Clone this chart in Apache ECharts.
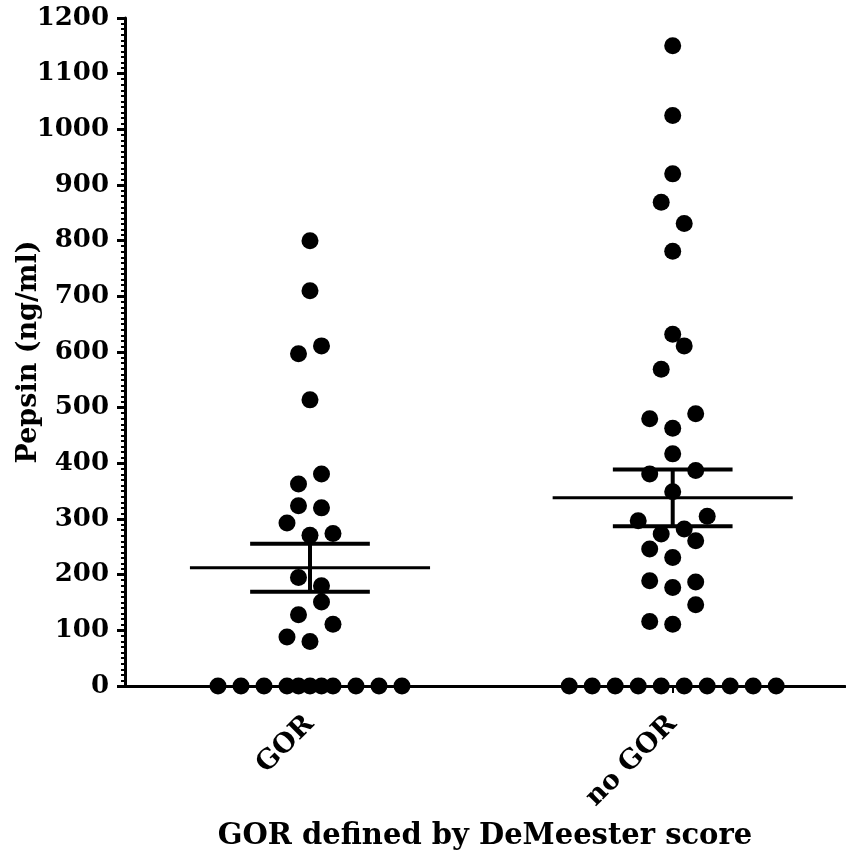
<!DOCTYPE html>
<html>
<head>
<meta charset="utf-8">
<script src="https://cdn.jsdelivr.net/npm/echarts@6/dist/echarts.min.js"></script>
<style>html,body{margin:0;padding:0;background:#fff}#c{width:846px;height:852px}</style>
</head>
<body>
<div id="c"></div>
<script>
// ---- data ----
const categories = ['GOR', 'no GOR'];
const yTicks = [0, 100, 200, 300, 400, 500, 600, 700, 800, 900, 1000, 1100, 1200];

// GOR group: pepsin values and jitter column (horizontal slot) of each dot
const gorValues = [800, 710, 597, 611, 514, 381, 363, 324, 320, 293, 271, 274, 195, 180, 151, 128, 111, 88, 80,
                   0, 0, 0, 0, 0, 0, 0, 0, 0, 0, 0];
const gorCols   = [0, 0, -1, 1, 0, 1, -1, -1, 1, -2, 0, 2, -1, 1, 1, -1, 2, -2, 0,
                   -8, -6, -4, -2, -1, 0, 1, 2, 4, 6, 8];

// no GOR group
const noGorValues = [1150, 1025, 920, 869, 831, 781, 632, 611, 569, 480, 489, 463, 417, 381, 387, 349, 297, 305,
                     273, 282, 261, 246, 231, 189, 177, 187, 146, 116, 111,
                     0, 0, 0, 0, 0, 0, 0, 0, 0, 0];
const noGorCols   = [0, 0, 0, -1, 1, 0, 0, 1, -1, -2, 2, 0, 0, -2, 2, 0, -3, 3,
                     -1, 1, 2, -2, 0, -2, 0, 2, 2, -2, 0,
                     -9, -7, -5, -3, -1, 1, 3, 5, 7, 9];

// mean and SEM per group
const means = [212.5, 338];
const sems  = [43, 51];

// ---- chart ----
const STEP = 0.0317;        // width of one jitter slot in x units
const MEAN_HALF = 0.331;    // half width of mean line
const CAP_HALF = 0.165;     // half width of SEM caps

function pts(vals, cols, g) {
  return vals.map((v, i) => [g + cols[i] * STEP, v]);
}

const font = '"DejaVu Serif", "Liberation Serif", serif';
const chart = echarts.init(document.getElementById('c'));
chart.setOption({
  animation: false,
  grid: { left: 125, right: 1, top: 18, bottom: 166, containLabel: false, outerBoundsMode: 'none' },
  xAxis: {
    type: 'value', min: -0.51, max: 1.475,
    splitLine: { show: false },
    axisLine: { show: true, onZero: false, lineStyle: { color: '#000', width: 3 } },
    axisTick: { show: true, customValues: [0, 1], length: 7, inside: false, lineStyle: { color: '#000', width: 2 } },
    axisLabel: {
      customValues: [0, 1],
      formatter: v => categories[Math.round(v)],
      rotate: 45, margin: 34,
      fontFamily: font, fontWeight: 'bold', fontSize: 27, color: '#000'
    },
    name: 'GOR defined by DeMeester score',
    nameLocation: 'middle', nameGap: 136,
    nameTextStyle: { fontFamily: font, fontWeight: 'bold', fontSize: 29, color: '#000' }
  },
  yAxis: {
    type: 'value', min: 0, max: 1200, interval: 100,
    splitLine: { show: false },
    axisLine: { show: true, onZero: false, lineStyle: { color: '#000', width: 3 } },
    axisTick: { show: true, length: 8, lineStyle: { color: '#000', width: 3 } },
    minorTick: { show: true, splitNumber: 10, length: 4, lineStyle: { color: '#000', width: 2 } },
    axisLabel: {
      margin: 16,
      formatter: v => yTicks.includes(v) ? String(v) : '',
      fontFamily: font, fontWeight: 'bold', fontSize: 26, color: '#000'
    },
    name: 'Pepsin (ng/ml)',
    nameLocation: 'middle', nameGap: 83, nameMoveOverlap: false,
    nameTextStyle: { fontFamily: font, fontWeight: 'bold', fontSize: 27, color: '#000' }
  },
  series: [
    {
      type: 'scatter', symbol: 'circle', symbolSize: 17, z: 5,
      itemStyle: { color: '#000', opacity: 1 },
      data: pts(gorValues, gorCols, 0)
    },
    {
      type: 'scatter', symbol: 'circle', symbolSize: 17, z: 5,
      itemStyle: { color: '#000', opacity: 1 },
      data: pts(noGorValues, noGorCols, 1)
    },
    {
      type: 'custom', z: 6,
      data: means.map((m, i) => [i, m, sems[i]]),
      renderItem: function (params, api) {
        const g = api.value(0), m = api.value(1), s = api.value(2);
        const a = api.coord([g - MEAN_HALF, m]);
        const b = api.coord([g + MEAN_HALF, m]);
        const up = api.coord([g, m + s]);
        const lo = api.coord([g, m - s]);
        const cu1 = api.coord([g - CAP_HALF, m + s]);
        const cu2 = api.coord([g + CAP_HALF, m + s]);
        const cl1 = api.coord([g - CAP_HALF, m - s]);
        const cl2 = api.coord([g + CAP_HALF, m - s]);
        const st = { stroke: '#000', lineWidth: 4 };
        return {
          type: 'group',
          children: [
            { type: 'line', shape: { x1: a[0], y1: a[1], x2: b[0], y2: b[1] }, style: { stroke: '#000', lineWidth: 3 } },
            { type: 'line', shape: { x1: up[0], y1: up[1], x2: lo[0], y2: lo[1] }, style: st },
            { type: 'line', shape: { x1: cu1[0], y1: cu1[1], x2: cu2[0], y2: cu2[1] }, style: st },
            { type: 'line', shape: { x1: cl1[0], y1: cl1[1], x2: cl2[0], y2: cl2[1] }, style: st }
          ]
        };
      }
    }
  ]
});
</script>
</body>
</html>
